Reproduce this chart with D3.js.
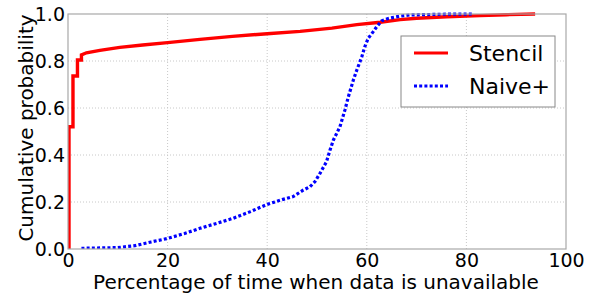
<!DOCTYPE html>
<html><head><meta charset="utf-8">
<script src="https://cdn.jsdelivr.net/npm/d3@7"></script>
<style>body{margin:0;background:#fff}svg{display:block}text{font-family:"DejaVu Sans",sans-serif;fill:#000}</style>
</head><body>
<svg id="c" width="594" height="297"></svg>
<script>
// Data
const stencilX = [0, 0.2, 0.2, 1.0, 1.0, 1.9, 1.9, 2.7, 2.7, 3.7, 6.4, 10.4, 15, 20, 26.5, 33, 40, 46.6, 53, 58, 62.7, 66.7, 70, 76, 82.7, 88, 93.8];
const stencilY = [0, 0, 0.52, 0.52, 0.736, 0.736, 0.804, 0.804, 0.826, 0.835, 0.845, 0.858, 0.868, 0.878, 0.892, 0.905, 0.916, 0.926, 0.940, 0.955, 0.965, 0.976, 0.982, 0.988, 0.993, 0.997, 1.0];
const naiveX = [2.7, 10, 13.4, 16.7, 20, 23.4, 26.5, 30, 33.2, 36.5, 40, 43, 45.2, 47.2, 48.6, 49.6, 50.6, 51.9, 52.6, 53.3, 54.6, 55.6, 56.3, 57.3, 58, 59, 59.6, 60.3, 61.3, 62, 63, 64.3, 66.7, 68.7, 75, 81.3];
const naiveY = [0.003, 0.006, 0.014, 0.03, 0.045, 0.066, 0.088, 0.11, 0.131, 0.158, 0.19, 0.21, 0.223, 0.25, 0.265, 0.287, 0.322, 0.371, 0.42, 0.464, 0.52, 0.591, 0.648, 0.719, 0.762, 0.818, 0.861, 0.897, 0.925, 0.946, 0.971, 0.981, 0.991, 0.996, 0.999, 1.0];
const xTicks = [0, 20, 40, 60, 80, 100];
const yTicks = [0.0, 0.2, 0.4, 0.6, 0.8, 1.0];
const seriesNames = ["Stencil", "Naive+"];
const xTitle = "Percentage of time when data is unavailable";
const yTitle = "Cumulative probability";

const L = 68, R = 566, T = 14, B = 249;
const svg = d3.select("#c");
const x = d3.scaleLinear().domain([0, 100]).range([L, R]);
const y = d3.scaleLinear().domain([0, 1]).range([B, T]);

// grid
const g = svg.append("g");
g.selectAll(".gx").data(xTicks.slice(1, -1)).join("line")
  .attr("x1", d => x(d)).attr("x2", d => x(d)).attr("y1", T).attr("y2", B)
  .attr("stroke", "#c8c8c8").attr("stroke-width", 1).attr("stroke-dasharray", "1,2");
g.selectAll(".gy").data(yTicks.slice(1, -1)).join("line")
  .attr("y1", d => y(d)).attr("y2", d => y(d)).attr("x1", L).attr("x2", R)
  .attr("stroke", "#c8c8c8").attr("stroke-width", 1).attr("stroke-dasharray", "1,2");

svg.append("clipPath").attr("id", "clip").append("rect")
  .attr("x", L).attr("y", T - 2).attr("width", R - L).attr("height", B - T + 2);

const line = d3.line().x(d => x(d[0])).y(d => y(d[1]));
const stencil = stencilX.map((v, i) => [v, stencilY[i]]);
const naive = naiveX.map((v, i) => [v, naiveY[i]]);

const plot = svg.append("g").attr("clip-path", "url(#clip)");
plot.append("path").datum(stencil).attr("d", line)
  .attr("fill", "none").attr("stroke", "#ff0000").attr("stroke-width", 3.4);
plot.append("path").datum(naive).attr("d", line)
  .attr("fill", "none").attr("stroke", "#0000ff").attr("stroke-width", 3.2)
  .attr("stroke-dasharray", "3,2.2");

// frame
svg.append("rect").attr("x", L).attr("y", T).attr("width", R - L).attr("height", B - T)
  .attr("fill", "none").attr("stroke", "#a8a8a8").attr("stroke-width", 1.2);

// axes labels via d3 axes
const xAxis = svg.append("g").attr("transform", `translate(0,${B})`)
  .call(d3.axisBottom(x).tickValues(xTicks).tickFormat(d3.format("d")).tickSize(0).tickPadding(4));
const yAxis = svg.append("g").attr("transform", `translate(${L},0)`)
  .call(d3.axisLeft(y).tickValues(yTicks).tickFormat(d3.format(".1f")).tickSize(0).tickPadding(3));
[xAxis, yAxis].forEach(a => {
  a.select(".domain").remove();
  a.selectAll("text").attr("font-size", 19).attr("font-family", "DejaVu Sans").attr("fill", "#000");
});

svg.append("text").attr("x", 316).attr("y", 289).attr("text-anchor", "middle")
  .attr("font-size", 20).text(xTitle);
svg.append("text").attr("transform", `translate(33,128) rotate(-90)`)
  .attr("text-anchor", "middle").attr("font-size", 20).text(yTitle);

// legend
const lg = svg.append("g");
lg.append("rect").attr("x", 401).attr("y", 36).attr("width", 154).attr("height", 71)
  .attr("fill", "#fff").attr("stroke", "#888").attr("stroke-width", 1);
const colors = ["#ff0000", "#0000ff"], dashes = [null, "3,2.2"];
seriesNames.forEach((n, i) => {
  const yy = 53 + i * 33;
  lg.append("line").attr("x1", 414).attr("x2", 448).attr("y1", yy).attr("y2", yy)
    .attr("stroke", colors[i]).attr("stroke-width", 3.2).attr("stroke-dasharray", dashes[i]);
  lg.append("text").attr("x", 469).attr("y", yy + 8).attr("font-size", 22).text(n);
});
</script>
</body></html>
